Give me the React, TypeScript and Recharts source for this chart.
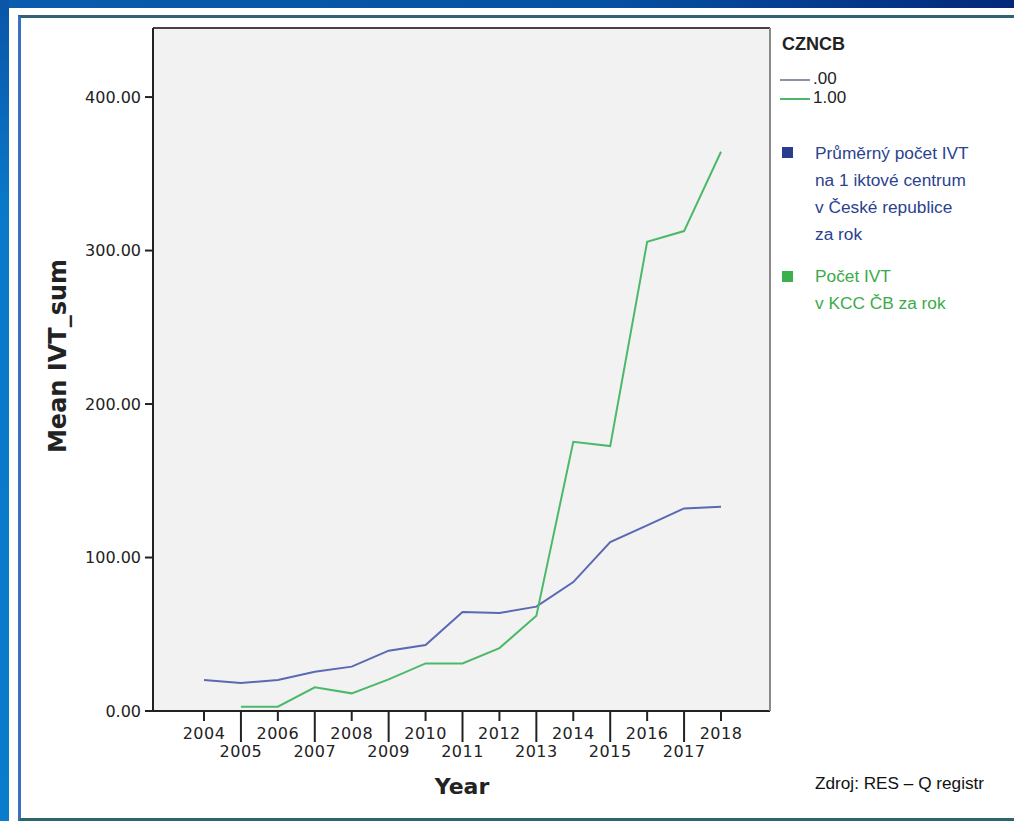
import { LineChart, Line, XAxis, YAxis, CartesianGrid } from 'recharts';

const years = ['2004', '2005', '2006', '2007', '2008', '2009', '2010', '2011', '2012', '2013', '2014', '2015', '2016', '2017', '2018'];
const meanCz = [20.2, 18.2, 20.2, 25.6, 28.9, 39.3, 43, 64.5, 63.8, 68, 84, 110, 121, 132, 133];
const meanKcc = [null, 2.8, 2.8, 15.4, 11.5, 20.6, 31, 31, 41, 62, 175.4, 172.6, 305.7, 312.7, 364.4];
const yTicks = [0, 100, 200, 300, 400];

const data = years.map((year, i) => ({ year, cz: meanCz[i], kcc: meanKcc[i] }));

const axisFont = '"DejaVu Sans", sans-serif';
const noteFont = '"Liberation Sans", Arial, sans-serif';

// SPSS style: even years on the first row with a short tick,
// odd years on the second row with a long tick
const YearTick = (props: any) => {
  const { x, y, payload, index } = props;
  const odd = index % 2 === 1;
  return (
    <g>
      <line x1={x} x2={x} y1={y} y2={y + (odd ? 31 : 10)} stroke="#222" strokeWidth={2} />
      <text
        x={x}
        y={y + (odd ? 46 : 28)}
        textAnchor="middle"
        fontSize={16}
        fontFamily={axisFont}
        fill="#222"
        letterSpacing={0.5}
      >
        {payload.value}
      </text>
    </g>
  );
};

const App = () => {
  return (
    <div style={{ position: 'absolute', left: 0, top: 0, width: 1014, height: 821, background: '#fff', overflow: 'hidden' }}>
      <div style={{ position: 'absolute', left: 0, top: 0, width: 1014, height: 8, background: 'linear-gradient(to right, #0a5cae, #0650a2 60%, #03287a)' }} />
      <div style={{ position: 'absolute', left: 0, top: 0, width: 9, height: 821, background: 'linear-gradient(to bottom, #0a55a8, #0a78c8 25%, #0a7ccc)' }} />
      <div
        style={{
          position: 'absolute',
          left: 18,
          top: 15,
          width: 996,
          height: 806,
          boxSizing: 'border-box',
          borderTop: '3px solid #2f6272',
          borderLeft: '3px solid #3a6fc2',
          borderBottom: '3px solid #2a6670',
        }}
      />

      <div style={{ position: 'absolute', left: 0, top: 0 }}>
        <LineChart width={1014} height={821} data={data} margin={{ top: 27, right: 243, left: 93, bottom: 50 }}>
          <CartesianGrid fill="#f2f2f2" horizontal={false} vertical={false} />
          <XAxis
            dataKey="year"
            interval={0}
            padding={{ left: 51, right: 49 }}
            height={60}
            tickSize={0}
            tickMargin={0}
            tickLine={false}
            axisLine={{ stroke: '#222', strokeWidth: 2 }}
            tick={<YearTick />}
          />
          <XAxis xAxisId="top" orientation="top" dataKey="year" height={1} tick={false} tickLine={false} axisLine={{ stroke: '#4a403c', strokeWidth: 2 }} />
          <YAxis
            domain={[0, 445]}
            ticks={yTicks}
            width={60}
            tickSize={8}
            tickMargin={4}
            tickFormatter={(v: number) => v.toFixed(2)}
            tick={{ fill: '#222', fontSize: 16, fontFamily: axisFont }}
            tickLine={{ stroke: '#222', strokeWidth: 2 }}
            axisLine={{ stroke: '#222', strokeWidth: 2 }}
          />
          <YAxis yAxisId="right" orientation="right" width={1} domain={[0, 445]} tick={false} tickLine={false} axisLine={{ stroke: '#8a8a8a', strokeWidth: 2 }} />
          <Line dataKey="cz" stroke="#5b68b2" strokeWidth={2} dot={false} isAnimationActive={false} />
          <Line dataKey="kcc" stroke="#4cb96a" strokeWidth={2} dot={false} isAnimationActive={false} />
        </LineChart>
      </div>

      <div
        style={{
          position: 'absolute',
          left: 58,
          top: 356,
          transform: 'translate(-50%, -50%) rotate(-90deg)',
          fontFamily: axisFont,
          fontWeight: 'bold',
          fontSize: 24,
          color: '#222',
          whiteSpace: 'nowrap',
        }}
      >
        Mean IVT_sum
      </div>
      <div
        style={{
          position: 'absolute',
          left: 462,
          top: 786,
          transform: 'translate(-50%, -50%)',
          fontFamily: axisFont,
          fontWeight: 'bold',
          fontSize: 22,
          color: '#222',
          whiteSpace: 'nowrap',
        }}
      >
        Year
      </div>

      <div style={{ position: 'absolute', left: 782, top: 34, fontFamily: noteFont, fontSize: 18, color: '#222', fontWeight: 'bold' }}>CZNCB</div>
      <div style={{ position: 'absolute', left: 780, top: 79, width: 30, height: 2, background: '#8a92b2' }} />
      <div style={{ position: 'absolute', left: 813, top: 69, fontFamily: noteFont, fontSize: 17, color: '#222' }}>.00</div>
      <div style={{ position: 'absolute', left: 780, top: 98, width: 30, height: 2, background: '#4cb96a' }} />
      <div style={{ position: 'absolute', left: 813, top: 88, fontFamily: noteFont, fontSize: 17, color: '#222' }}>1.00</div>

      <div style={{ position: 'absolute', left: 782, top: 147, width: 11, height: 11, background: '#2b3b8e' }} />
      <div style={{ position: 'absolute', left: 815, top: 140, fontFamily: noteFont, fontSize: 17.3, lineHeight: '27px', color: '#2b4290' }}>
        Průměrný počet IVT
        <br />
        na 1 iktové centrum
        <br />
        v České republice
        <br />
        za rok
      </div>
      <div style={{ position: 'absolute', left: 782, top: 271, width: 11, height: 11, background: '#3bb14c' }} />
      <div style={{ position: 'absolute', left: 815, top: 263, fontFamily: noteFont, fontSize: 17.3, lineHeight: '27px', color: '#3aab4a' }}>
        Počet IVT
        <br />v KCC ČB za rok
      </div>

      <div style={{ position: 'absolute', left: 815, top: 773, fontFamily: noteFont, fontSize: 17.2, color: '#111' }}>Zdroj: RES – Q registr</div>
    </div>
  );
};

export default App;
